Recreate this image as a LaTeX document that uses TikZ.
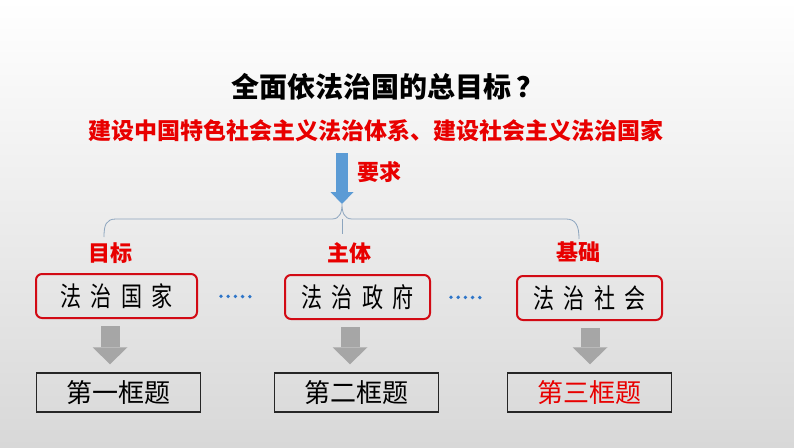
\documentclass[tikz,border=0pt]{standalone}
\usepackage{fontspec}
\usepackage{graphicx}
\newfontfamily\cjk{Noto Sans CJK SC}
\usetikzlibrary{arrows.meta}

\definecolor{hired}{RGB}{232,0,0}
\definecolor{boxred}{RGB}{210,10,20}
\definecolor{reqblue}{RGB}{91,155,213}
\definecolor{dotblue}{RGB}{46,117,200}
\definecolor{arrowgrey}{RGB}{166,166,166}
\definecolor{bracegrey}{RGB}{140,165,190}
\newcommand\sgap{\hspace{12pt}}

\begin{document}
\begin{tikzpicture}[x=1pt, y=-1pt,
  goalbox/.style={draw=boxred, line width=2pt, rounded corners=6pt, minimum height=44pt,
                  inner sep=0pt, font=\cjk\fontsize{27}{27}\selectfont},
  topicbox/.style={draw=black!85, line width=1.5pt, minimum width=164pt, minimum height=39pt,
                   inner sep=0pt, font=\cjk\fontsize{26}{26}\selectfont},
  tag/.style={text=hired, inner sep=0pt, font=\cjk\bfseries\fontsize{22}{22}\selectfont},
  downarrow/.style={draw=arrowgrey, line width=19pt,
                    -{Triangle[length=17pt,width=35pt,line width=0pt]},
                    shorten <=7pt, shorten >=8pt},
  reqarrow/.style={draw=reqblue, line width=12pt,
                   -{Triangle[length=12pt,width=23pt,line width=0pt]}},
  dotline/.style={draw=dotblue, line width=3.8pt, line cap=round, dash pattern=on 0pt off 7.2pt},
  bracket/.style={draw=bracegrey, line width=0.8pt},
]
  % background
  \fill[top color=white, bottom color={rgb,255:red,216;green,216;blue,216}] (0,0) rectangle (794,447);
  \useasboundingbox (0,0) rectangle (794,447);

  % heading
  \node[inner sep=0pt, font=\cjk\bfseries\fontsize{28}{28}\selectfont] (title) at (388,87) {全面依法治国的总目标\hspace{6pt}？};
  \node[tag, font=\cjk\bfseries\fontsize{23}{23}\selectfont] (aim) at (376,131) {建设中国特色社会主义法治体系、建设社会主义法治国家};

  % requirement arrow and bracket
  \coordinate (rq) at (342,153);
  \coordinate (bm) at (342,204);
  \coordinate (bl) at (104,237);
  \coordinate (br) at (579,239);
  \draw[reqarrow] (rq) -- (bm);
  \node[tag] (req) at (379,172) {要求};
  \draw[bracket] (bl) .. controls (104,225) and (106,219) .. (116,219) -- (332,219)
    .. controls (340,219) and (342,212) .. (bm)
    .. controls (342,212) and (344,219) .. (352,219) -- (566,219)
    .. controls (576,219) and (579,226) .. (br);
  \draw[bracket] (342,219) -- (342,234);

  % labels
  \node[tag] (lab1) at (110,253) {目标};
  \node[tag] (lab2) at (349,253) {主体};
  \node[tag] (lab3) at (578,252) {基础};

  % goals
  \node[goalbox, minimum width=161pt] (g1) at (116.5,296) {\scalebox{0.78}[1]{法\sgap 治\sgap 国\sgap 家}};
  \node[goalbox, minimum width=145pt] (g2) at (357.5,297) {\scalebox{0.78}[1]{法\sgap 治\sgap 政\sgap 府}};
  \node[goalbox, minimum width=145pt] (g3) at (589.5,298) {\scalebox{0.78}[1]{法\sgap 治\sgap 社\sgap 会}};
  \draw[dotline, shorten <=23pt, shorten >=28pt] (g1.east) -- (g2.west);
  \draw[dotline, shorten <=20pt, shorten >=30pt] (g2.east) -- (g3.west);

  % topics
  \node[topicbox] (t1) at (118.5,392.5) {第一框题};
  \node[topicbox] (t2) at (356.5,392.5) {第二框题};
  \node[topicbox, text=hired] (t3) at (589.5,392.5) {第三框题};
  \draw[downarrow] ([xshift=-6.5pt]g1.south) -- ([xshift=-8.5pt]t1.north);
  \draw[downarrow] ([xshift=-7.5pt]g2.south) -- ([xshift=-6.5pt]t2.north);
  \draw[downarrow] ([xshift=0.5pt]g3.south) -- ([xshift=0.5pt]t3.north);
\end{tikzpicture}
\end{document}
